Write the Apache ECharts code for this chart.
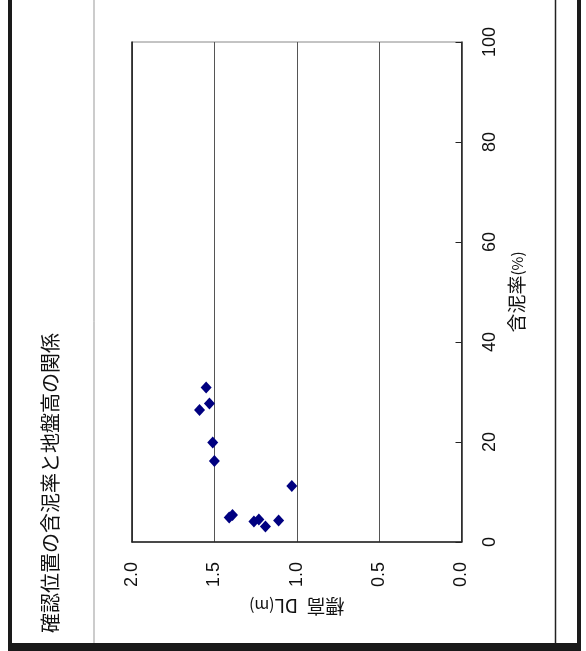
<!DOCTYPE html>
<html>
<head>
<meta charset="utf-8">
<script src="https://cdn.jsdelivr.net/npm/echarts@6/dist/echarts.min.js"></script>
<style>
html,body{margin:0;padding:0;background:#fff;}
#c{width:586px;height:651px;}
</style>
</head>
<body>
<div id="c"></div>
<script>
// 標高 DL (m)
const elevation = [1.55, 1.53, 1.59, 1.51, 1.50, 1.03, 1.41, 1.39, 1.26, 1.23, 1.19, 1.11];
// 含泥率 (%)
const mudRate = [30.9, 27.7, 26.4, 19.9, 16.2, 11.2, 4.9, 5.4, 4.1, 4.5, 3.1, 4.3];
const titleText = '確認位置の含泥率と地盤高の関係';
const mudAxisName = '含泥率';
const elevAxisName = '標高  DL';

const numFont = "'Liberation Sans Narrow','Liberation Sans',Arial,sans-serif";
const cjkFont = "'Noto Sans CJK JP','Noto Sans',sans-serif";

const points = elevation.map((e, i) => [e, mudRate[i]]);

const chart = echarts.init(document.getElementById('c'), null, {renderer: 'canvas'});
chart.setOption({
  backgroundColor: '#ffffff',
  animation: false,
  grid: {left: 132, top: 42, right: 124.5, bottom: 109, show: true, borderColor: '#888', borderWidth: 1, backgroundColor: 'transparent'},
  xAxis: {
    type: 'value', min: 0, max: 2, interval: 0.5, inverse: true, position: 'bottom',
    axisLine: {show: true, lineStyle: {color: '#222', width: 1.5}},
    axisTick: {show: false},
    splitLine: {show: true, lineStyle: {color: '#555', width: 1}},
    axisLabel: {rotate: 90, margin: 20, color: '#111', fontSize: 18, fontFamily: numFont,
      formatter: v => v.toFixed(1)},
    name: '{a|' + elevAxisName + '}{b|(m)}',
    nameLocation: 'middle', nameRotate: 180, nameGap: 55,
    nameTextStyle: {rich: {a: {fontSize: 19, fontFamily: cjkFont, color: '#111'}, b: {fontSize: 16, fontFamily: cjkFont, color: '#111'}}}
  },
  yAxis: [{
    type: 'value', min: 0, max: 100, interval: 20, position: 'right',
    axisLine: {show: true, lineStyle: {color: '#222', width: 1.5}},
    axisTick: {show: true, inside: true, length: 6, lineStyle: {color: '#222'}},
    splitLine: {show: false},
    axisLabel: {rotate: 90, margin: 20, color: '#111', fontSize: 18, fontFamily: numFont},
    name: '{a|' + mudAxisName + '}{b|(%)}',
    nameLocation: 'middle', nameRotate: 90, nameGap: 46,
    nameTextStyle: {rich: {a: {fontSize: 19, fontFamily: cjkFont, color: '#111'}, b: {fontSize: 15, fontFamily: cjkFont, color: '#111'}}}
  }, {
    type: 'value', min: 0, max: 100, interval: 20, position: 'left',
    axisLine: {show: true, lineStyle: {color: '#222', width: 1.5}},
    axisTick: {show: false}, axisLabel: {show: false}, splitLine: {show: false}
  }],
  series: [{
    type: 'scatter', xAxisIndex: 0, yAxisIndex: 0,
    symbol: 'diamond', symbolSize: [11, 12],
    itemStyle: {color: '#000080', opacity: 1},
    data: points
  }],
  graphic: [
    {type: 'rect', shape: {x: 8, y: 0, width: 4, height: 651}, style: {fill: '#1a1a1a'}},
    {type: 'rect', shape: {x: 8, y: 643, width: 573, height: 8}, style: {fill: '#1a1a1a'}},
    {type: 'rect', shape: {x: 577, y: 0, width: 4, height: 651}, style: {fill: '#1a1a1a'}},
    {type: 'line', shape: {x1: 94, y1: 0, x2: 94, y2: 643}, style: {stroke: '#999', lineWidth: 1}},
    {type: 'line', shape: {x1: 555.5, y1: 0, x2: 555.5, y2: 643}, style: {stroke: '#222', lineWidth: 1.5}},
    {type: 'text', x: 50, y: 633, rotation: Math.PI / 2,
      style: {text: titleText, font: '20px ' + cjkFont, fill: '#111', textAlign: 'left', textVerticalAlign: 'middle'}}
  ]
});
</script>
</body>
</html>
